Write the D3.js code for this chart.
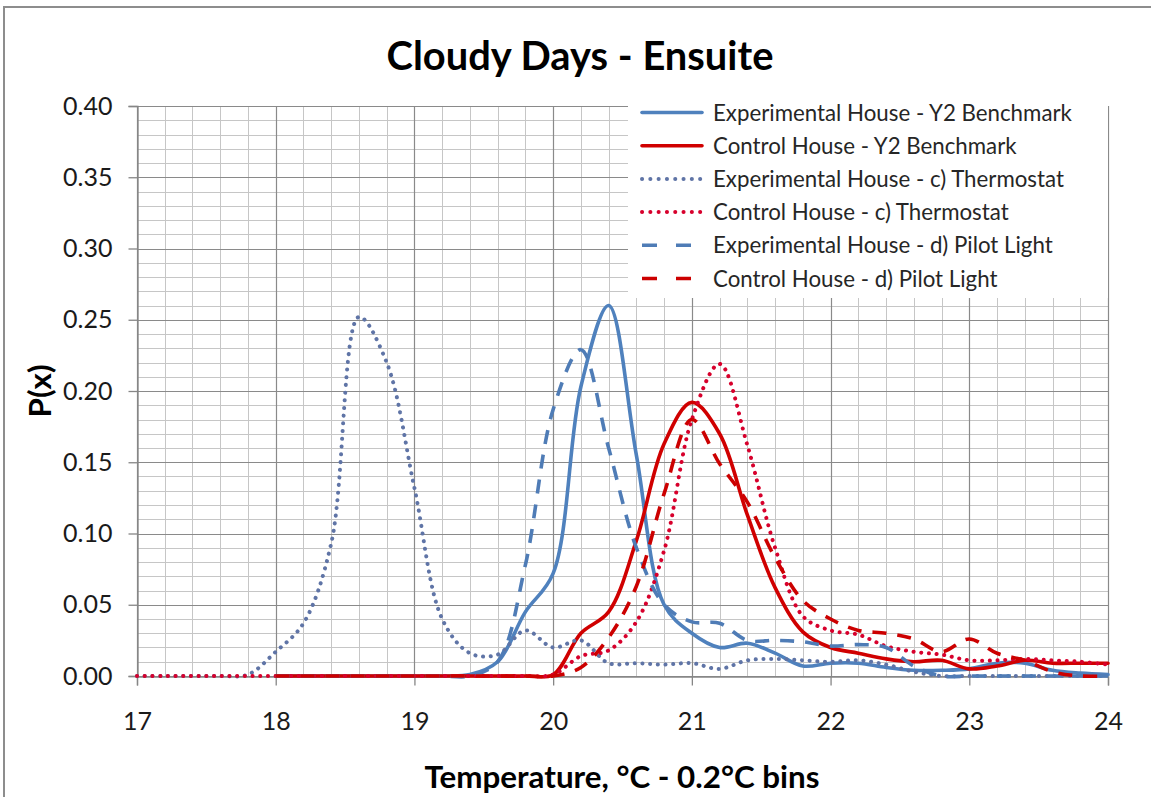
<!DOCTYPE html>
<html>
<head>
<meta charset="utf-8">
<script src="https://cdn.jsdelivr.net/npm/d3@7"></script>
<style>
  html, body { margin: 0; padding: 0; background: #fff; }
  svg { display: block; }
  text { font-family: Lato, "Noto Sans", sans-serif; }
</style>
</head>
<body>
<svg id="chart" width="1151" height="797"></svg>
<script>
// Temperature bins (°C, 0.2°C wide)
const bins = [17.0, 17.2, 17.4, 17.6, 17.8, 18.0, 18.2, 18.4, 18.6, 18.8,
              19.0, 19.2, 19.4, 19.6, 19.8, 20.0, 20.2, 20.4, 20.6, 20.8,
              21.0, 21.2, 21.4, 21.6, 21.8, 22.0, 22.2, 22.4, 22.6, 22.8,
              23.0, 23.2, 23.4, 23.6, 23.8, 24.0];

// P(x) for each bin; null where the series has no value
const expY2 = [null, null, null, null, null, 0, 0, 0, 0, 0,
               0, 0, 0.001, 0.01, 0.045, 0.072, 0.203, 0.26, 0.155, 0.05,
               0.03, 0.02, 0.023, 0.016, 0.007, 0.009, 0.009, 0.006, 0.004, 0.004,
               0.005, 0.009, 0.009, 0.004, 0.002, 0.001];
const ctlY2 = [null, null, null, null, null, 0, 0, 0, 0, 0,
               0, 0, 0, 0, 0, 0.001, 0.03, 0.045, 0.095, 0.163,
               0.192, 0.17, 0.113, 0.062, 0.031, 0.02, 0.016, 0.012, 0.01, 0.011,
               0.005, 0.007, 0.011, 0.009, 0.009, 0.009];
const expThermo = [0, 0, 0, 0, 0.001, 0.017, 0.037, 0.093, 0.252, 0.22,
                   0.132, 0.04, 0.016, 0.015, 0.032, 0.02, 0.025, 0.009, 0.009, 0.008,
                   0.009, 0.005, 0.011, 0.012, 0.011, 0.01, 0.011, 0.008, 0.003, 0,
                   0, 0, 0, 0, 0, 0];
const ctlThermo = [0, 0, 0, 0, 0, 0, 0, 0, 0, 0,
                   0, 0, 0, 0, 0, 0.001, 0.014, 0.018, 0.038, 0.088,
                   0.18, 0.219, 0.162, 0.09, 0.042, 0.032, 0.029, 0.021, 0.017, 0.015,
                   0.011, 0.011, 0.012, 0.011, 0.01, 0.008];
const expPilot = [null, null, null, null, null, 0, 0, 0, 0, 0,
                  0, 0, 0, 0.01, 0.078, 0.187, 0.229, 0.16, 0.09, 0.05,
                  0.038, 0.037, 0.025, 0.025, 0.024, 0.021, 0.022, 0.02, 0.007, 0,
                  0, 0, 0, 0, 0, 0];
const ctlPilot = [null, null, null, null, null, 0, 0, 0, 0, 0,
                  0, 0, 0, 0, 0, 0, 0.006, 0.027, 0.063, 0.128,
                  0.18, 0.149, 0.122, 0.083, 0.053, 0.04, 0.032, 0.03, 0.026, 0.017,
                  0.026, 0.016, 0.011, 0.003, 0, 0];

const seriesNames = ["Experimental House - Y2 Benchmark",
                     "Control House - Y2 Benchmark",
                     "Experimental House - c) Thermostat",
                     "Control House - c) Thermostat",
                     "Experimental House - d) Pilot Light",
                     "Control House - d) Pilot Light"];

const xTicks = [17, 18, 19, 20, 21, 22, 23, 24];
const yTicks = [0, 0.05, 0.10, 0.15, 0.20, 0.25, 0.30, 0.35, 0.40];

const title = "Cloudy Days - Ensuite";
const xTitle = "Temperature, °C - 0.2°C bins";
const yTitle = "P(x)";

// line styling per series
const styles = [
  { color: "#4f81bd", width: 3.6, dash: null, legendDash: null, cap: "round" },
  { color: "#d00000", width: 3.6, dash: null, legendDash: null, cap: "round" },
  { color: "#5f74a6", width: 4, dash: "0.1 7.6", legendDash: "0.1 8.2", cap: "round" },
  { color: "#d7002c", width: 4, dash: "0.1 7.6", legendDash: "0.1 8.2", cap: "round" },
  { color: "#4f7cb6", width: 3.6, dash: "14 11", legendDash: "15 19", cap: "butt" },
  { color: "#cc0000", width: 3.6, dash: "14 11", legendDash: "15 19", cap: "butt" }
];

const series = [expY2, ctlY2, expThermo, ctlThermo, expPilot, ctlPilot];

const svg = d3.select("#chart");
const W = 1151, H = 797;
const plot = { left: 137, right: 1108, top: 106, bottom: 676 };

const x = d3.scaleLinear().domain([17, 24]).range([plot.left, plot.right]);
const y = d3.scaleLinear().domain([0, 0.4]).range([plot.bottom, plot.top]);

svg.append("rect").attr("width", W).attr("height", H).attr("fill", "#fff");

// chart frame edges
svg.append("path")
  .attr("d", `M4,${H} L4,7 L${W},7`)
  .attr("fill", "none").attr("stroke", "#8d8d8d").attr("stroke-width", 2);

// gridlines: minor every 0.2°C / 0.01, major at the axis ticks
const grid = svg.append("g");
const minorX = d3.range(17, 24.0001, 0.2);
const minorY = d3.range(0, 0.40001, 0.01);
grid.selectAll("line.mx").data(minorX).join("line")
  .attr("x1", d => Math.round(x(d)) + 0.5).attr("x2", d => Math.round(x(d)) + 0.5)
  .attr("y1", plot.top).attr("y2", plot.bottom)
  .attr("stroke", "#c6c6c6").attr("stroke-width", 1);
grid.selectAll("line.my").data(minorY).join("line")
  .attr("y1", d => Math.round(y(d)) + 0.5).attr("y2", d => Math.round(y(d)) + 0.5)
  .attr("x1", plot.left).attr("x2", plot.right)
  .attr("stroke", "#c6c6c6").attr("stroke-width", 1);
grid.selectAll("line.Mx").data(xTicks).join("line")
  .attr("x1", d => Math.round(x(d)) + 0.5).attr("x2", d => Math.round(x(d)) + 0.5)
  .attr("y1", plot.top).attr("y2", plot.bottom)
  .attr("stroke", "#8a8a8a").attr("stroke-width", 1.2);
grid.selectAll("line.My").data(yTicks).join("line")
  .attr("y1", d => Math.round(y(d)) + 0.5).attr("y2", d => Math.round(y(d)) + 0.5)
  .attr("x1", plot.left).attr("x2", plot.right)
  .attr("stroke", "#8a8a8a").attr("stroke-width", 1.2);

// axes
const xAxis = svg.append("g")
  .attr("transform", `translate(0,${plot.bottom + 0.5})`)
  .call(d3.axisBottom(x).tickValues(xTicks).tickFormat(d3.format("d"))
        .tickSize(9).tickPadding(27));
const yAxis = svg.append("g")
  .attr("transform", `translate(${plot.left + 0.5},0)`)
  .call(d3.axisLeft(y).tickValues(yTicks).tickFormat(d3.format(".2f"))
        .tickSize(9).tickPadding(16));
[xAxis, yAxis].forEach(a => {
  a.select(".domain").attr("stroke", "#868686").attr("stroke-width", 1.3);
  a.selectAll(".tick line").attr("stroke", "#868686").attr("stroke-width", 1.3);
  a.selectAll(".tick text").attr("fill", "#1a1a1a")
    .style("font-family", "Lato, sans-serif").style("font-size", "25px");
});

// legend background hides gridlines behind it
const legend = svg.append("g");
legend.append("rect")
  .attr("x", 628).attr("y", 92).attr("width", 480).attr("height", 206)
  .attr("fill", "#fff");

// series lines
const line = d3.line()
  .defined(d => d[1] != null)
  .x(d => x(d[0])).y(d => y(d[1]))
  .curve(d3.curveCatmullRom.alpha(0.5));

const lines = svg.append("g");
series.forEach((vals, i) => {
  const s = styles[i];
  lines.append("path")
    .datum(bins.map((b, j) => [b, vals[j]]))
    .attr("d", line)
    .attr("fill", "none")
    .attr("stroke", s.color)
    .attr("stroke-width", s.width)
    .attr("stroke-linecap", s.cap)
    .attr("stroke-linejoin", "round")
    .attr("stroke-dasharray", s.dash);
});

// legend entries
const rowY0 = 112.5, rowStep = 33.2;
seriesNames.forEach((name, i) => {
  const s = styles[i];
  const ry = rowY0 + i * rowStep;
  legend.append("line")
    .attr("x1", 642).attr("x2", 702).attr("y1", ry).attr("y2", ry)
    .attr("stroke", s.color).attr("stroke-width", s.width)
    .attr("stroke-linecap", s.cap)
    .attr("stroke-dasharray", s.legendDash);
  legend.append("text")
    .attr("class", "legend-label")
    .attr("x", 713).attr("y", ry).attr("dy", "0.36em")
    .attr("fill", "#262626")
    .style("font-size", "21px")
    .text(name);
});

// size text so it spans a given width
function fitWidth(sel, target) {
  const fs = parseFloat(sel.style("font-size"));
  const w = sel.node().getComputedTextLength();
  sel.style("font-size", (fs * target / w).toFixed(2) + "px");
}

const legendLabels = legend.selectAll("text.legend-label");
{
  const first = legendLabels.nodes()[0];
  const w = first.getComputedTextLength();
  const fs = 21 * 359 / w;
  legendLabels.style("font-size", fs.toFixed(2) + "px");
}

// titles
const t = svg.append("text")
  .attr("x", 580).attr("y", 70).attr("text-anchor", "middle")
  .attr("fill", "#000").style("font-weight", "700").style("font-size", "34px")
  .text(title);
fitWidth(t, 387);

const xt = svg.append("text")
  .attr("x", 622).attr("y", 788).attr("text-anchor", "middle")
  .attr("fill", "#000").style("font-weight", "700").style("font-size", "27px")
  .text(xTitle);
fitWidth(xt, 395);

const yt = svg.append("text")
  .attr("transform", "translate(51,391) rotate(-90)")
  .attr("text-anchor", "middle")
  .attr("fill", "#000").style("font-weight", "700").style("font-size", "27px")
  .text(yTitle);
fitWidth(yt, 53);
</script>
</body>
</html>
